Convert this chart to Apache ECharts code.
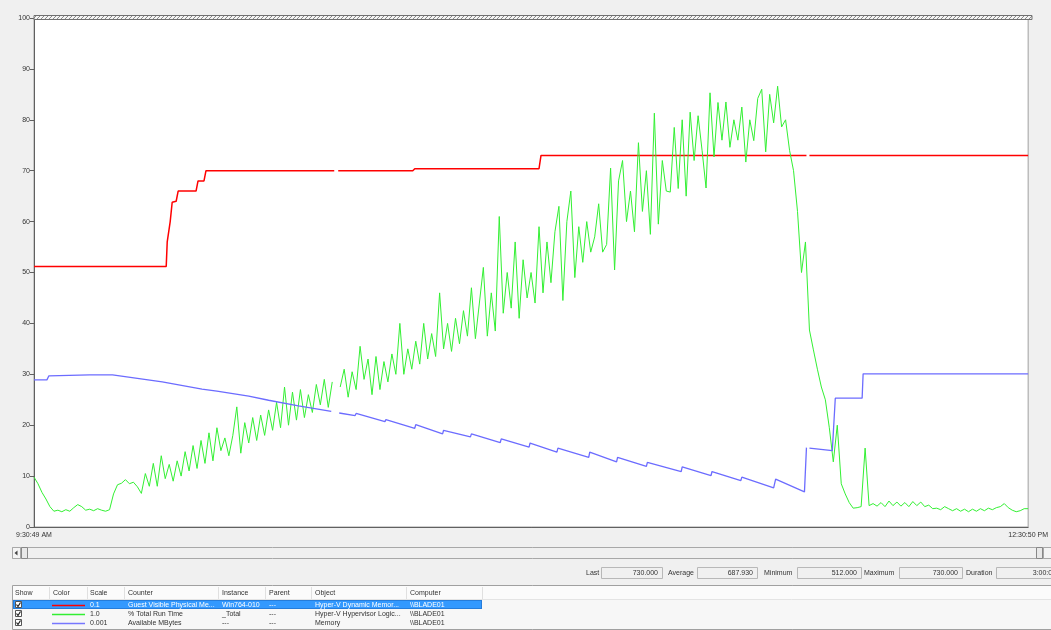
<!DOCTYPE html>
<html><head><meta charset="utf-8">
<script src="https://cdn.jsdelivr.net/npm/echarts/dist/echarts.min.js"></script>
<style>html,body{margin:0;padding:0;background:#f0f0f0;}#c{width:1051px;height:630px;}</style>
</head><body><div id="c"></div><script>
// ---- data ----
const startLabel = '9:30:49 AM';
const endLabel = '12:30:50 PM';
const sampleCount = 1000;          // samples across the graph
const greenStep = 4;               // green values read every 4 samples
const yTickLabels = [0,10,20,30,40,50,60,70,80,90,100];

// % Total Run Time (scale 1.0)
const greenPct = [
9.8,8.5,6.8,5.5,4.0,3.1,3.3,3.0,3.4,3.1,3.8,4.4,4.0,3.3,3.5,3.2,3.6,3.3,3.1,3.4,
6.5,8.3,8.6,9.3,8.5,8.8,7.9,6.6,10.5,8.0,12.5,8.0,14.0,9.5,12.3,9.0,13.0,10.0,14.8,11.0,
16.0,11.5,17.0,12.5,18.5,13.0,19.5,15.0,17.5,14.0,18.0,23.6,14.5,20.5,16.5,21.5,17.0,22.0,18.0,23.0,
19.0,24.5,19.5,27.5,20.0,26.5,21.0,27.0,21.5,26.0,22.5,28.0,24.0,29.0,23.5,28.5,null,27.5,31.0,25.5,
30.5,27.0,35.5,29.0,33.0,26.0,33.5,27.0,32.5,28.5,34.0,30.0,40.0,30.0,35.0,31.0,36.5,32.0,40.0,33.0,
38.0,33.5,46.0,35.0,40.0,34.5,41.0,36.0,42.5,37.5,47.0,37.0,44.0,51.0,37.5,46.0,38.5,61.0,42.0,50.0,
43.0,56.0,41.0,52.5,45.0,50.0,44.0,59.0,46.0,56.0,48.0,58.0,63.0,44.5,60.0,66.0,49.0,59.0,52.0,60.0,
54.0,57.0,63.5,54.0,55.5,70.5,50.5,68.0,72.0,60.0,66.0,58.0,75.5,62.0,70.0,57.5,81.3,59.5,72.0,66.0,
65.8,78.5,66.5,80.0,65.0,81.5,72.0,80.8,74.0,66.6,85.3,72.7,83.4,76.0,83.5,74.6,80.0,76.0,82.5,71.7,
80.0,75.9,84.2,86.0,73.7,85.0,79.4,86.6,78.6,80.0,74.0,70.0,62.0,50.0,56.0,38.7,34.8,31.0,27.5,25.0,
19.5,12.8,20.0,8.5,6.5,4.8,3.7,3.8,4.0,15.5,4.2,4.6,4.1,4.8,4.0,5.1,4.2,4.9,4.1,4.8,
4.0,5.0,4.2,4.9,4.0,4.3,3.6,3.7,3.4,4.0,3.6,3.2,3.6,3.1,3.5,3.0,3.5,3.1,3.6,3.2,
3.7,3.4,3.8,4.0,4.6,3.8,3.3,3.0,3.2,3.6,3.6
];

// Guest Visible Physical Memory, MB (scale 0.1) : [sample, MB]
const redRaw = [[0,512],[133,512],[134,560],[137,600],[139,638],[143,640],[145,660],[163,660],[165,680],[171,680],[173,700],
[302,700],[303,'-'],[306,700],[381,700],[383,704],[508,704],[510,730],[777,730],[778,'-'],[780,730],[1000,730]];

// Available MBytes (scale 0.001) : [sample, MB]
const blueRaw = [[0,28900],[13,28900],[15,29700],[56,29900],[79,29900],[81,29600],[129,28500],[169,27100],[184,26700],[186,26900],
[216,25700],[236,24900],[266,23800],[299,22700],[302,'-'],[307,22400],[323,21900],[324,22300],[353,20700],[354,21100],
[383,19400],[384,20100],[411,18300],[412,19000],[439,17700],[440,18300],[469,16600],[470,17300],[498,15700],[499,16500],
[526,14700],[527,15500],[558,13700],[559,14700],[586,12800],[587,13700],[616,11900],[617,12700],[651,10900],[652,11800],
[681,10100],[682,10900],[711,9100],[712,9800],[744,7700],[746,9400],[775,6900],[777,15600],[778,'-'],[780,15500],
[803,15000],[806,25300],[833,25300],[834,30100],[1000,30100]];

const scales = {red:0.1, green:1.0, blue:0.001};

const statLabels = ['Last','Average','Minimum','Maximum','Duration'];
const statValues = ['730.000','687.930','512.000','730.000','3:00:01'];

const tableHeaders = ['Show','Color','Scale','Counter','Instance','Parent','Object','Computer'];
const tableRows = [
  ['0.1','Guest Visible Physical Me...','Win764-010','---','Hyper-V Dynamic Memor...','\\\\BLADE01'],
  ['1.0','% Total Run Time','_Total','---','Hyper-V Hypervisor Logic...','\\\\BLADE01'],
  ['0.001','Available MBytes','---','---','Memory','\\\\BLADE01']
];
const rowColors = ['#ff0000','#33ee33','#7777ff'];

// ---- build ----
const scaleSeries = (arr, k) => arr.map(p => [p[0], p[1] === '-' ? '-' : +(p[1]*k).toFixed(4)]);
const greenData = greenPct.map((v,i) => [i*greenStep, v === null ? '-' : v*scales.green]);

const FONT = 'Liberation Sans, Arial, sans-serif';
const TXT = '#333';
const g = [];
// top hatched band
(function(){
  const cv = document.createElement('canvas'); cv.width = 4; cv.height = 4;
  const cx = cv.getContext('2d'); cx.fillStyle='#f4f4f4'; cx.fillRect(0,0,4,4);
  cx.strokeStyle='#8a8a8a'; cx.lineWidth=1; cx.beginPath(); cx.moveTo(0,4); cx.lineTo(4,0); cx.stroke();
  g.push({type:'rect', shape:{x:34,y:15.5,width:998,height:4}, style:{fill:{image:cv, repeat:'repeat'}, stroke:'#707070', lineWidth:1}, z:10});
})();
// scrollbar
g.push({type:'rect', shape:{x:12.5,y:547.5,width:1040,height:11}, style:{fill:'#f0f0f0', stroke:'#a8a8a8'}});
g.push({type:'rect', shape:{x:12.5,y:547.5,width:8,height:11}, style:{fill:'#f4f4f4', stroke:'#a8a8a8'}});
g.push({type:'polygon', shape:{points:[[14.5,553],[17.5,550.5],[17.5,555.5]]}, style:{fill:'#444'}});
g.push({type:'rect', shape:{x:21.5,y:547.5,width:6,height:11}, style:{fill:'#e8e8e8', stroke:'#888'}});
g.push({type:'rect', shape:{x:1036.5,y:547.5,width:6,height:11}, style:{fill:'#e8e8e8', stroke:'#888'}});
g.push({type:'rect', shape:{x:1043.5,y:547.5,width:8,height:11}, style:{fill:'#f4f4f4', stroke:'#a8a8a8'}});
// stats bar
const statPos = [[586,601,662],[668,697,757],[764,797,861],[864,899,962],[966,996,1060]];
statLabels.forEach((l,i)=>{
  const p = statPos[i];
  g.push({type:'text', style:{x:p[0], y:573, text:l, fill:TXT, font:'7px '+FONT, verticalAlign:'middle'}});
  g.push({type:'rect', shape:{x:p[1]+0.5,y:567.5,width:p[2]-p[1],height:11}, style:{fill:'#f0f0f0', stroke:'#b8b8b8'}});
  g.push({type:'text', style:{x:p[2]-4, y:573, text:statValues[i], fill:TXT, font:'7px '+FONT, align:'right', verticalAlign:'middle'}});
});
// legend table
g.push({type:'rect', shape:{x:12.5,y:585.5,width:1040,height:44}, style:{fill:'#f7f7f7', stroke:'#a0a0a0'}});
g.push({type:'rect', shape:{x:13,y:586,width:1038,height:13}, style:{fill:'#fbfbfb'}});
g.push({type:'line', shape:{x1:13,y1:599.5,x2:1051,y2:599.5}, style:{stroke:'#e4e4e4'}});
const colX = [15,53,90,128,222,269,315,410];
const sepX = [49,87,124,218,265,311,406,482];
tableHeaders.forEach((h,i)=>{
  g.push({type:'text', style:{x:colX[i], y:593, text:h, fill:TXT, font:'7px '+FONT, verticalAlign:'middle'}});
  g.push({type:'line', shape:{x1:sepX[i]+0.5,y1:587,x2:sepX[i]+0.5,y2:599}, style:{stroke:'#e0e0e0'}});
});
const rowY = [605,614,623];
g.push({type:'rect', shape:{x:13,y:600,width:469,height:9}, style:{fill:'#3399ff'}});
g.push({type:'rect', shape:{x:13.5,y:600.5,width:468,height:8}, style:{fill:'none', stroke:'#1a5fb4', lineDash:[1,1]}});
tableRows.forEach((r,ri)=>{
  const y = rowY[ri];
  const fc = ri===0 ? '#fff' : TXT;
  g.push({type:'rect', shape:{x:15.5,y:y-3.5,width:6,height:6}, style:{fill:'#fff', stroke:'#555'}});
  g.push({type:'polyline', shape:{points:[[16.5,y-0.5],[18,y+1.5],[20.5,y-2.5]]}, style:{stroke:'#222', lineWidth:1.2, fill:'none'}});
  g.push({type:'line', shape:{x1:52,y1:y+0.5,x2:85,y2:y+0.5}, style:{stroke:rowColors[ri], lineWidth:1.5}});
  r.forEach((t,ci)=>{
    g.push({type:'text', style:{x:colX[ci+2], y:y, text:t, fill:fc, font:'7px '+FONT, verticalAlign:'middle'}});
  });
});

const chart = echarts.init(document.getElementById('c'), null, {renderer:'canvas'});
chart.setOption({
  animation:false,
  backgroundColor:'#f0f0f0',
  grid:{left:34, top:18, width:998, height:509, show:true, backgroundColor:'#fff', borderColor:'#a0a0a0', borderWidth:1},
  xAxis:{type:'value', min:0, max:sampleCount, interval:sampleCount,
    axisLine:{show:true, onZero:false, lineStyle:{color:'#606060', width:1}},
    axisTick:{show:false}, splitLine:{show:false},
    axisLabel:{color:TXT, fontFamily:FONT, fontSize:7, margin:5, showMinLabel:true, showMaxLabel:true,
      formatter:v => v===0 ? startLabel : (v===sampleCount ? endLabel : '')}},
  yAxis:{type:'value', min:0, max:100, interval:10,
    axisLine:{show:true, lineStyle:{color:'#606060', width:1}},
    axisTick:{show:true, length:4, lineStyle:{color:'#606060'}}, splitLine:{show:false},
    axisLabel:{color:TXT, fontFamily:FONT, fontSize:7, margin:4, formatter:v => yTickLabels.includes(v) ? String(v) : ''}},
  series:[
    {type:'line', data:scaleSeries(redRaw, scales.red), showSymbol:false, symbol:'none', lineStyle:{color:'#ff0000', width:1.5}, z:3},
    {type:'line', data:greenData, showSymbol:false, symbol:'none', lineStyle:{color:'#33f033', width:1}, z:4},
    {type:'line', data:scaleSeries(blueRaw, scales.blue), showSymbol:false, symbol:'none', lineStyle:{color:'#6c6cff', width:1.3}, z:5}
  ],
  graphic:g
});
</script></body></html>
